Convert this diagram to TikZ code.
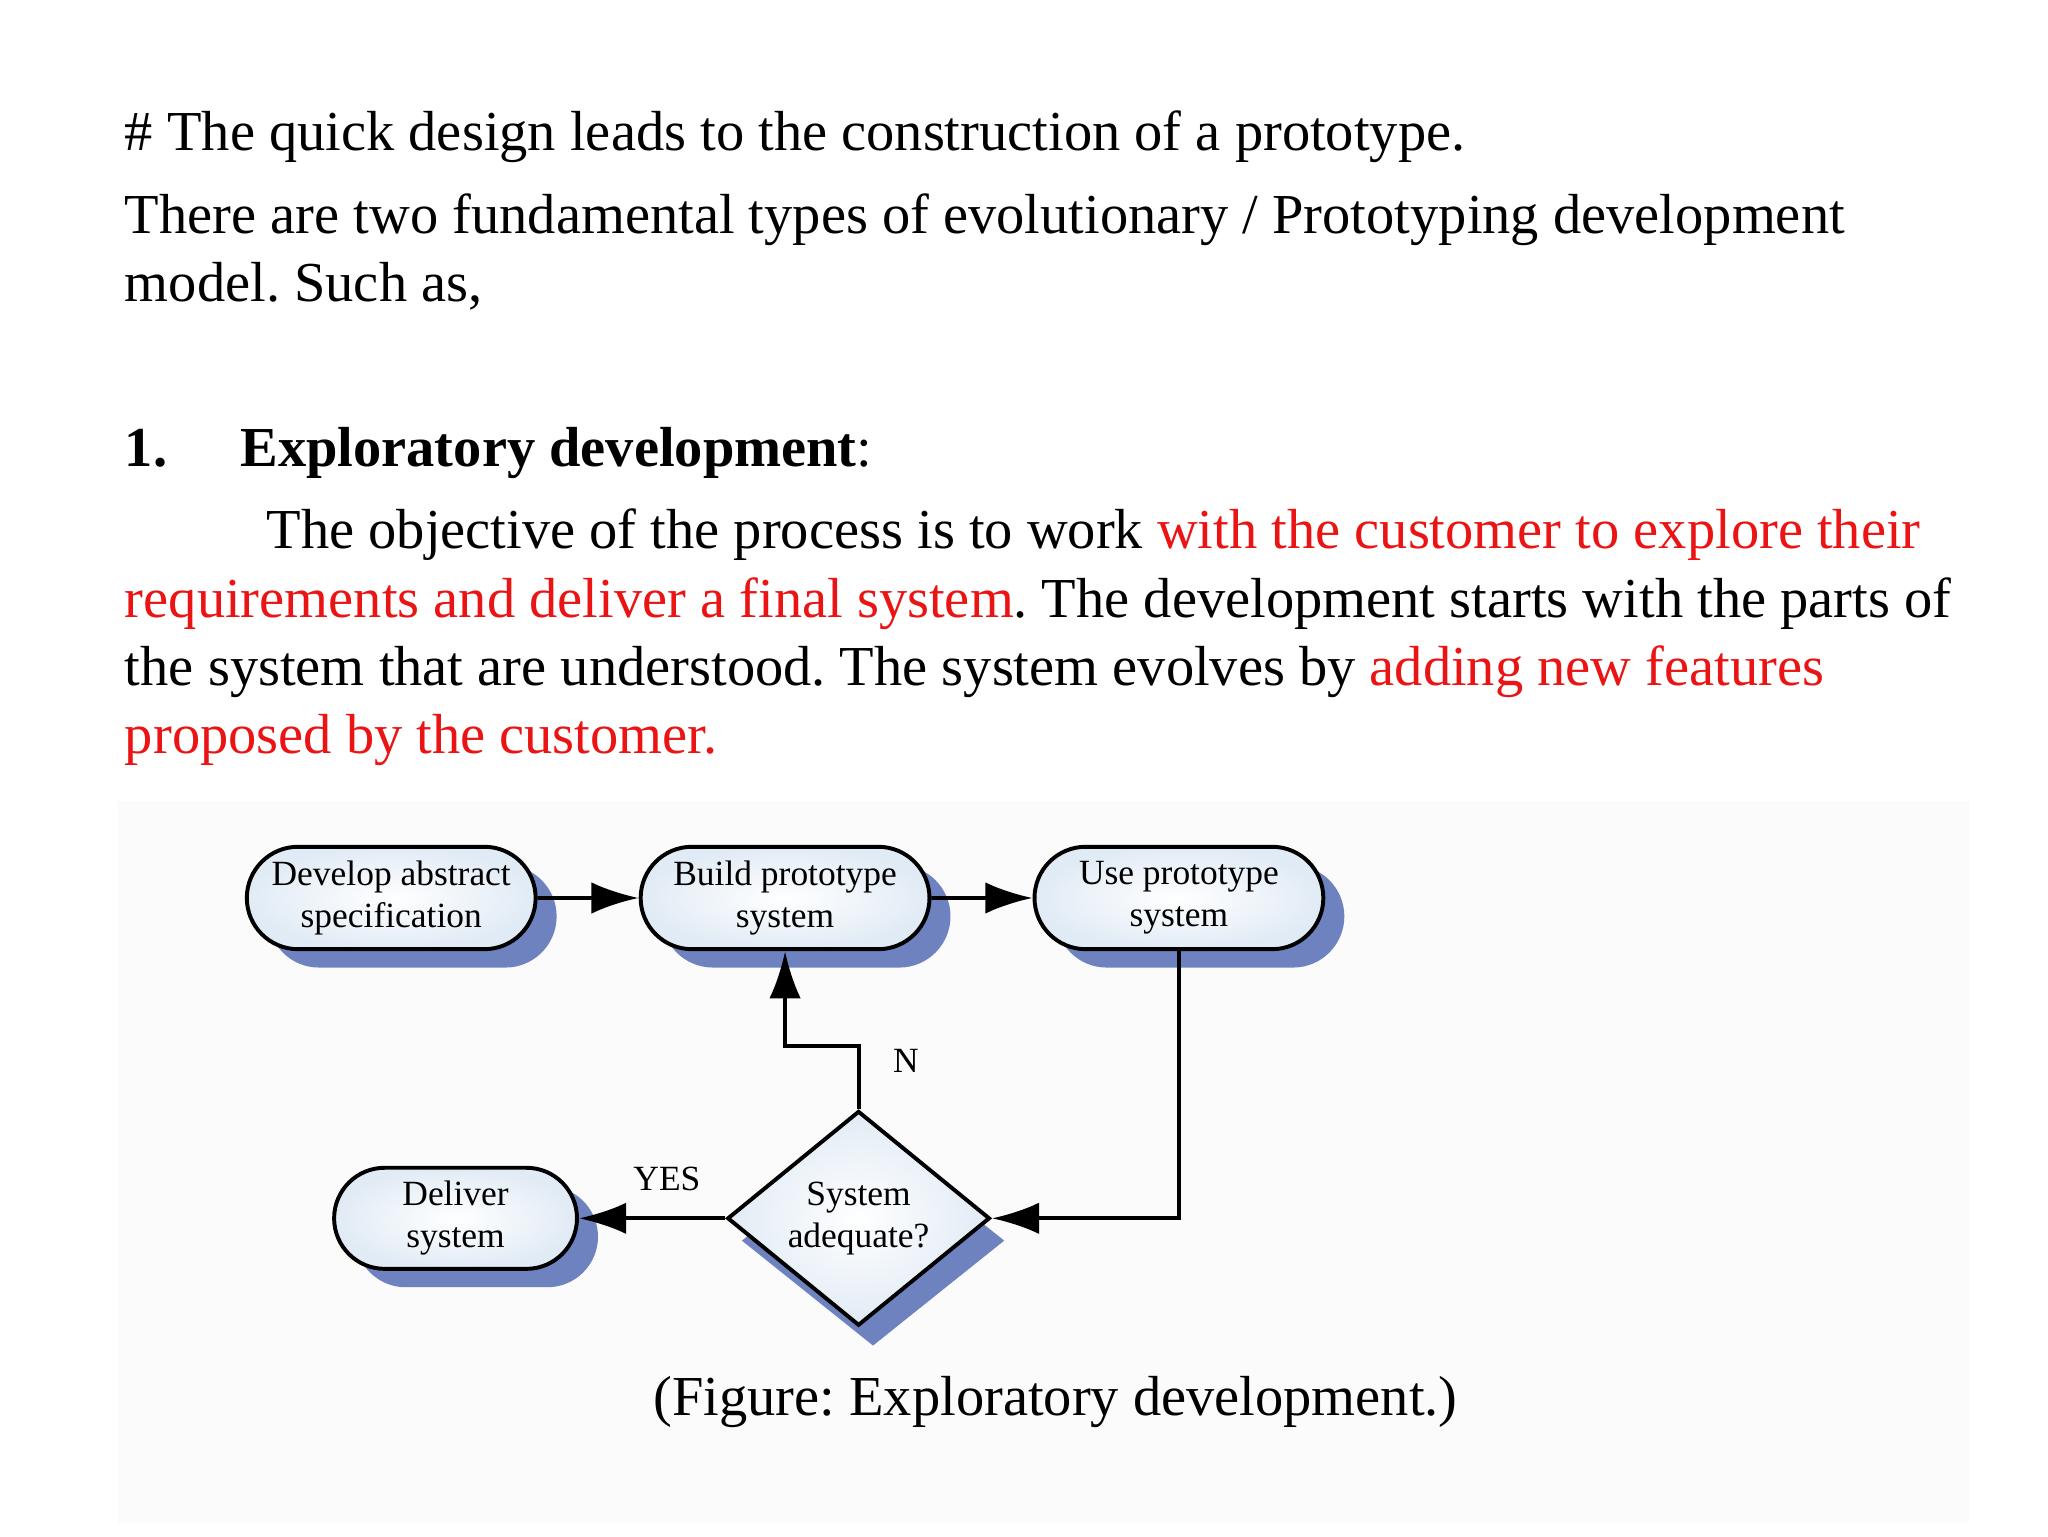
\documentclass[tikz,border=0pt]{standalone}
\usepackage{fontspec}
\setmainfont{Liberation Serif}
\usetikzlibrary{shapes.misc,shapes.geometric,arrows.meta}
\definecolor{myred}{RGB}{235,20,20}
\definecolor{shad}{RGB}{110,130,192}
\definecolor{boxfill}{RGB}{225,235,245}
\frenchspacing
\begin{document}
\begin{tikzpicture}[x=1pt,y=-1pt,
  txt/.style={anchor=base west,inner sep=0pt,font=\fontsize{43}{50}\selectfont},
  pill/.style={rounded rectangle,draw=black,line width=3pt,inner color=white,outer color=boxfill,minimum width=220,minimum height=78,align=center,font=\fontsize{27}{32}\selectfont,inner sep=0pt},
  pillshadow/.style={rounded rectangle,fill=shad,minimum width=220,minimum height=78,inner sep=0pt},
  arr/.style={line width=3pt,-{Latex[length=36pt,width=24pt]}},
  lbl/.style={font=\fontsize{27}{32}\selectfont,inner sep=0pt}]
\useasboundingbox (0,0) rectangle (1560,1170);
\fill[white] (0,0) rectangle (1560,1170);
\fill[black!1.5] (90,610) rectangle (1500,1160);
\node[txt] (l1) at (95,115) {\# The quick design leads to the construction of a prototype.};
\node[txt] (l2) at (95,178) {There are two fundamental types of evolutionary / Prototyping development};
\node[txt] (l3) at (95,230) {model. Such as,};
\node[txt] (h1) at (95,355) {\textbf{1.}};
\node[txt] (h2) at (183,355) {\textbf{Exploratory development}:};
\node[txt] (p1) at (203,418) {The objective of the process is to work \textcolor{myred}{with the customer to explore their}};
\node[txt] (p2) at (95,470) {\textcolor{myred}{requirements and deliver a final system}. The development starts with the parts of};
\node[txt] (p3) at (95,522) {the system that are understood. The system evolves by \textcolor{myred}{adding new features}};
\node[txt] (p4) at (95,574) {\textcolor{myred}{proposed by the customer.}};
% shadows
\node[pillshadow] (s1) at (314,698) {};
\node[pillshadow] (s2) at (614,698) {};
\node[pillshadow] (s3) at (914,698) {};
\node[pillshadow,minimum width=185,minimum height=77] (s4) at (363,942) {};
\node[diamond,fill=shad,minimum width=200,minimum height=160,inner sep=0pt] (s5) at (665,945) {};
% nodes
\node[pill] (a) at (298,684) {Develop abstract\\specification};
\node[pill] (b) at (598,684) {Build prototype\\system};
\node[pill] (c) at (898,684) {Use prototype\\system};
\node[pill,minimum width=185,minimum height=77] (d) at (347,928) {Deliver\\system};
\node[diamond,draw=black,line width=3pt,inner color=white,outer color=boxfill,minimum width=200,minimum height=160,inner sep=0pt,align=center,font=\fontsize{27}{32}\selectfont] (q) at (654,928) {System\\adequate?};
\coordinate (c1) at (898,928);
\coordinate (n1) at (654,797);
\coordinate (n2) at (598,797);
\draw[arr] (a) -- (b);
\draw[arr] (b) -- (c);
\draw[arr] (c.south) -- (c1) -- (q.east);
\draw[arr] (q.north) -- (n1) -- (n2) -- (b.south);
\draw[arr] (q.west) -- (d.east);
\node[lbl] (nl) at (690,808) {N};
\node[lbl] (yl) at (508,898) {YES};
\node[anchor=base,inner sep=0pt,font=\fontsize{43}{50}\selectfont] (cap) at (804,1078) {(Figure: Exploratory development.)};
\end{tikzpicture}
\end{document}
